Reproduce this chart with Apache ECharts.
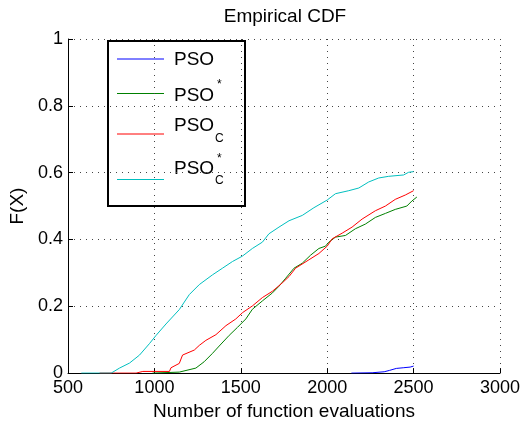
<!DOCTYPE html>
<html>
<head>
<meta charset="utf-8">
<script src="https://cdn.jsdelivr.net/npm/echarts@6/dist/echarts.min.js"></script>
<style>html,body{margin:0;padding:0;background:#fff}#c{width:523px;height:426px}</style>
</head>
<body>
<div id="c"></div>
<script>
// ---- data ----
const xTicks = [500, 1000, 1500, 2000, 2500, 3000];
const yTicks = [0, 0.2, 0.4, 0.6, 0.8, 1];

const psoX = [2140, 2260, 2330, 2360, 2400, 2440, 2480, 2500];
const psoY = [0, 0.001, 0.004, 0.008, 0.014, 0.016, 0.018, 0.021];

const psoStarX = [989, 1144, 1240, 1288, 1336, 1375, 1433, 1481, 1529, 1567, 1625, 1683, 1721, 1760, 1808, 1856, 1904, 1952, 1990, 2010, 2048, 2106, 2163, 2221, 2279, 2337, 2394, 2461, 2490, 2519];
const psoStarY = [0, 0.003, 0.015, 0.034, 0.059, 0.081, 0.113, 0.137, 0.162, 0.191, 0.216, 0.240, 0.260, 0.284, 0.314, 0.329, 0.353, 0.373, 0.380, 0.392, 0.407, 0.412, 0.432, 0.446, 0.466, 0.478, 0.490, 0.500, 0.515, 0.527];

const psoCX = [683, 894, 933, 1087, 1096, 1144, 1163, 1231, 1260, 1298, 1356, 1414, 1471, 1510, 1567, 1625, 1683, 1740, 1779, 1817, 1894, 1952, 2000, 2029, 2087, 2144, 2202, 2279, 2337, 2394, 2452, 2500];
const psoCY = [0, 0, 0.005, 0.005, 0.016, 0.029, 0.054, 0.069, 0.083, 0.098, 0.115, 0.142, 0.162, 0.181, 0.201, 0.226, 0.245, 0.270, 0.289, 0.314, 0.339, 0.358, 0.380, 0.402, 0.419, 0.437, 0.461, 0.486, 0.500, 0.520, 0.533, 0.546];

const psoCStarX = [577, 750, 760, 798, 856, 914, 971, 1010, 1067, 1144, 1202, 1260, 1336, 1394, 1452, 1509, 1567, 1625, 1663, 1721, 1779, 1856, 1923, 2000, 2048, 2125, 2183, 2240, 2298, 2356, 2442, 2471, 2500];
const psoCStarY = [0, 0, 0.002, 0.015, 0.03, 0.054, 0.088, 0.113, 0.147, 0.19, 0.235, 0.265, 0.294, 0.314, 0.334, 0.350, 0.373, 0.392, 0.417, 0.437, 0.456, 0.472, 0.495, 0.518, 0.537, 0.546, 0.554, 0.572, 0.584, 0.589, 0.593, 0.601, 0.603];

const seriesNames = ['PSO', 'PSO*', 'PSOC', 'PSOC*'];
const seriesColors = ['#0000ff', '#008000', '#ff0000', '#00bfbf'];

// ---- chart ----
const FONT = '"Liberation Sans", Arial, Helvetica, sans-serif';
const zip = (xs, ys) => xs.map((x, i) => [x, ys[i]]);
const dataSets = [zip(psoX, psoY), zip(psoStarX, psoStarY), zip(psoCX, psoCY), zip(psoCStarX, psoCStarY)];

const chart = echarts.init(document.getElementById('c'), null, {renderer: 'canvas'});

const dotted = {color: '#444', width: 1, type: [1, 5]};

const legendRows = [
  {lineY: 59, textY: 60, sup: null, sub: null},
  {lineY: 93.5, textY: 96, sup: 85, sub: null},
  {lineY: 134, textY: 126, sup: null, sub: 139},
  {lineY: 179.5, textY: 169, sup: 159, sub: 181}
];
const legendEls = [{
  type: 'rect', shape: {x: 108, y: 41, width: 137, height: 165},
  style: {fill: '#fff', stroke: '#000', lineWidth: 2}
}];
legendRows.forEach((r, i) => {
  legendEls.push({type: 'line', shape: {x1: 117, y1: r.lineY, x2: 164, y2: r.lineY},
    style: {stroke: seriesColors[i], lineWidth: 1}});
  legendEls.push({type: 'text', x: 174, y: r.textY,
    style: {text: 'PSO', font: '19px ' + FONT, fill: '#000', verticalAlign: 'middle', align: 'left'}});
  if (r.sup !== null) legendEls.push({type: 'text', x: 217, y: r.sup,
    style: {text: '*', font: '12px ' + FONT, fill: '#000', verticalAlign: 'middle', align: 'left'}});
  if (r.sub !== null) legendEls.push({type: 'text', x: 215, y: r.sub,
    style: {text: 'C', font: '12px ' + FONT, fill: '#000', verticalAlign: 'middle', align: 'left'}});
});

chart.setOption({
  animation: false,
  backgroundColor: '#fff',
  grid: {left: 68, right: 21, top: 39, bottom: 48, containLabel: false},
  xAxis: {
    type: 'value', min: xTicks[0], max: xTicks[xTicks.length - 1], interval: 500,
    name: 'Number of function evaluations', nameLocation: 'middle', nameGap: 23,
    nameTextStyle: {fontFamily: FONT, fontSize: 19, color: '#000'},
    axisLine: {lineStyle: {color: '#000', width: 1}},
    axisTick: {inside: true, length: 5, lineStyle: {color: '#000'}},
    axisLabel: {fontFamily: FONT, fontSize: 18, color: '#000', margin: 6, formatter: v => String(v)},
    splitLine: {show: true, lineStyle: dotted}
  },
  yAxis: {
    type: 'value', min: yTicks[0], max: yTicks[yTicks.length - 1], interval: 0.2,
    name: 'F(X)', nameLocation: 'middle', nameGap: 36,
    nameTextStyle: {fontFamily: FONT, fontSize: 19, color: '#000'},
    axisLine: {show: true, lineStyle: {color: '#000', width: 1}},
    axisTick: {show: true, inside: true, length: 5, lineStyle: {color: '#000'}},
    axisLabel: {fontFamily: FONT, fontSize: 18, color: '#000', margin: 5, formatter: v => String(Math.round(v * 10) / 10)},
    splitLine: {show: true, lineStyle: dotted}
  },
  series: dataSets.map((d, i) => ({
    name: seriesNames[i], type: 'line', data: d, showSymbol: false, symbol: 'none',
    lineStyle: {color: seriesColors[i], width: 1}, itemStyle: {color: seriesColors[i]}
  })),
  graphic: [
    {type: 'text', x: 285, y: 17, style: {text: 'Empirical CDF', font: '19px ' + FONT, fill: '#000', align: 'center', verticalAlign: 'middle'}},
    {type: 'group', z: 100, children: legendEls}
  ]
});
</script>
</body>
</html>
